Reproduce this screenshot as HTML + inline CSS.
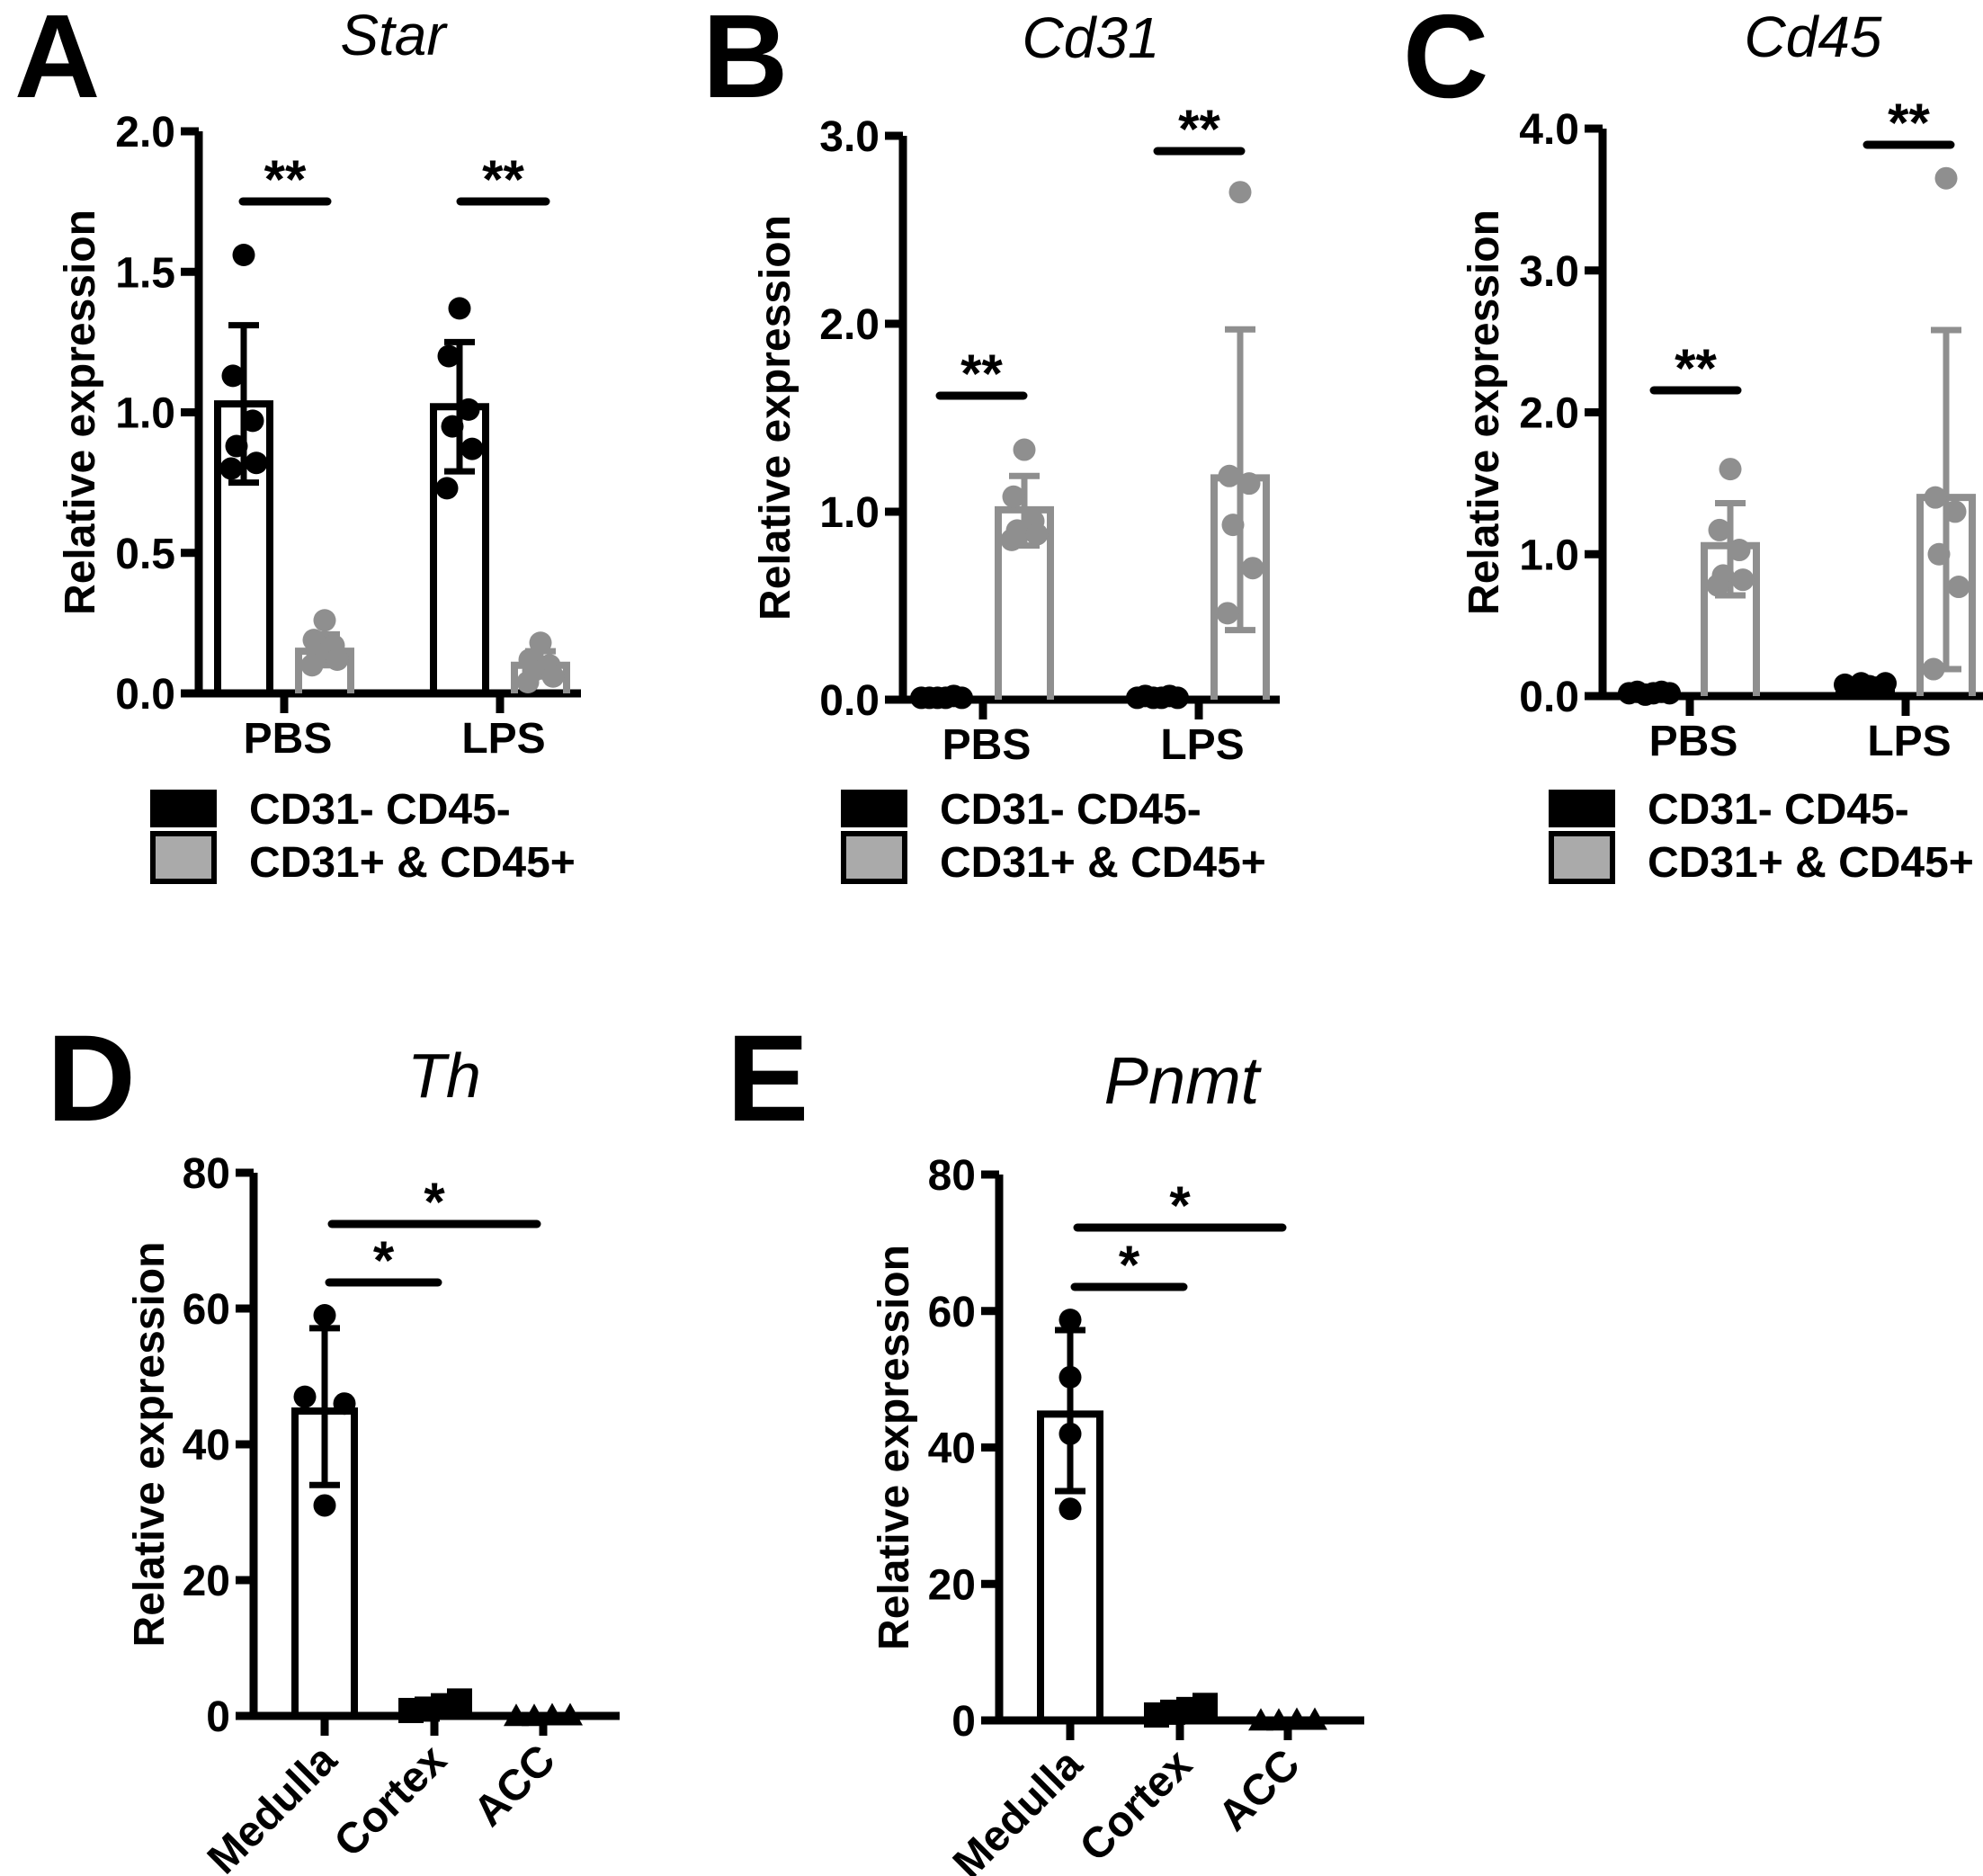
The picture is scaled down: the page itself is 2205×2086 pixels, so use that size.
<!DOCTYPE html>
<html><head><meta charset="utf-8"><style>
html,body{margin:0;padding:0;background:#fff;}
svg{display:block;font-family:"Liberation Sans",Arial,sans-serif;}
</style></head><body>
<svg id="fig" width="2205" height="2086" viewBox="0 0 2205 2086" xmlns="http://www.w3.org/2000/svg"></svg>
<script>
// ---------- Data (top-level) ----------
const groupsTop = ["PBS", "LPS"];
const legendLabels = ["CD31- CD45-", "CD31+ & CD45+"];

const starTicks = ["0.0","0.5","1.0","1.5","2.0"];
const starBlackMean = [1.03, 1.02];
const starBlackErr = [[0.75,1.31],[0.79,1.25]];
const starBlackPts = [[1.56,1.13,0.97,0.88,0.82,0.80],[1.37,1.20,1.01,0.95,0.87,0.73]];
const starGreyMean = [0.15, 0.10];
const starGreyErr = [[0.10,0.21],[0.06,0.15]];
const starGreyPts = [[0.26,0.19,0.17,0.14,0.12,0.10],[0.18,0.12,0.10,0.08,0.06,0.04]];

const cd31Ticks = ["0.0","1.0","2.0","3.0"];
const cd31BlackMean = [0.01, 0.01];
const cd31BlackErr = [[0.0,0.02],[0.0,0.02]];
const cd31BlackPts = [[0.01,0.01,0.01,0.01,0.02,0.01],[0.01,0.02,0.01,0.01,0.02,0.01]];
const cd31GreyMean = [1.01, 1.18];
const cd31GreyErr = [[0.82,1.19],[0.37,1.97]];
const cd31GreyPts = [[1.33,1.08,0.95,0.90,0.88,0.85],[2.70,1.19,1.15,0.93,0.70,0.46]];

const cd45Ticks = ["0.0","1.0","2.0","3.0","4.0"];
const cd45BlackMean = [0.02, 0.07];
const cd45BlackErr = [[0.01,0.03],[0.05,0.09]];
const cd45BlackPts = [[0.02,0.03,0.01,0.02,0.03,0.02],[0.08,0.06,0.09,0.07,0.06,0.09]];
const cd45GreyMean = [1.06, 1.40];
const cd45GreyErr = [[0.71,1.36],[0.19,2.58]];
const cd45GreyPts = [[1.60,1.17,1.03,0.85,0.82,0.78],[3.65,1.40,1.30,1.00,0.77,0.19]];

const tissues = ["Medulla", "Cortex", "ACC"];
const tissueTicks = ["0","20","40","60","80"];
const thMean = [44.9, 1.2, 0.1];
const thErr = [[34.0,57.1],[0.5,1.8],[0,0.2]];
const thPts = [[59,47,46,31],[0.8,1.0,1.5,2.2],[0.1,0.1,0.2,0.2]];
const pnmtMean = [44.9, 1.3, 0.1];
const pnmtErr = [[33.6,57.2],[0.5,1.9],[0,0.2]];
const pnmtPts = [[58.7,50.3,42,31],[0.8,1.2,1.6,2.2],[0.1,0.1,0.2,0.2]];

// ---------- Helpers ----------
const NS = "http://www.w3.org/2000/svg";
const svg = document.getElementById("fig");
function mk(tag, attrs, parent){
  const e = document.createElementNS(NS, tag);
  for (const k in attrs) e.setAttribute(k, attrs[k]);
  (parent||svg).appendChild(e);
  return e;
}
function txt(s, attrs, parent){ const t = mk("text", attrs, parent); t.textContent = s; return t; }
const GREY = "#8f8f8f";
const jit = [0, -12, 10, -8, 14, -14];

function drawAxes(g, P, ticks, yMax){
  const y = v => P.y0 - (v / yMax) * (P.y0 - P.yTop);
  const ax = mk("path", {d:`M${P.ax} ${P.yTop} V${P.y0} H${P.xEnd}`, stroke:"#000","stroke-width":9,fill:"none"}, g);
  
  
  ticks.forEach(t => {
    const v = parseFloat(t), yy = y(v);
    const l = mk("line", {x1:P.ax-20, x2:P.ax, y1:yy, y2:yy, stroke:"#000","stroke-width":9}, g);
    
    
    const tl = txt(t, {x:P.ax-26, y:yy+17, "text-anchor":"end","font-size":48,"font-weight":"bold"}, g);
    
    
  });
  const yt = txt("Relative expression", {x:0,y:0,"text-anchor":"middle","font-size":48,"font-weight":"bold",
    transform:`translate(${P.ytx},${(P.yTop+P.y0)/2}) rotate(-90)`}, g);
  
  
  return y;
}
function errBar(g, cx, lo, hi, y, color){
  const e = mk("path", {d:`M${cx} ${y(lo)} V${y(hi)} M${cx-17} ${y(hi)} H${cx+17} M${cx-17} ${y(lo)} H${cx+17}`, stroke:color,"stroke-width":7,fill:"none"}, g);
  
  
}
function bar(g, cx, v, y, P, color, name, hw){
  const b = mk("path", {d:`M${cx-hw} ${P.y0} V${y(v)} H${cx+hw} V${P.y0}`, stroke:color,"stroke-width":8,fill:"none","stroke-linejoin":"miter"}, g);
  
  
}
function sig(g, x1, x2, yy, s){
  const l = mk("line", {x1:x1,x2:x2,y1:yy,y2:yy,stroke:"#000","stroke-width":9,"stroke-linecap":"round"}, g);
  
  
  const t = txt(s, {x:(x1+x2)/2, y:yy-4, "text-anchor":"middle","font-size":60,"font-weight":"bold"}, g);
  
  
}
function panelLabel(s, x, y, size){
  const t = txt(s, {x:x,y:y,"font-size":size,"font-weight":"bold"});
  
  
}
function title(s, x, y, size){
  const t = txt(s, {x:x,y:y,"font-size":size,"font-style":"italic","text-anchor":"middle"});
  
  
}

function topPanel(P, ticks, yMax, bm, be, bp, gm, ge, gp){
  const g = mk("g", {});
  
  
  const y = drawAxes(g, P, ticks, yMax);
  groupsTop.forEach((grp, i) => {
    const c = P.centers[i];
    const xt = mk("line", {x1:c, x2:c, y1:P.y0, y2:P.y0+22, stroke:"#000","stroke-width":9}, g);
    
    
    const lab = txt(grp, {x:c+4, y:P.y0+66, "text-anchor":"middle","font-size":48,"font-weight":"bold"}, g);
    
    
    const cb = c - P.off, cg = c + P.off;
    bar(g, cb, bm[i], y, P, "#000", 'bar-cd31neg-' + grp.toLowerCase(), 29);
    bar(g, cg, gm[i], y, P, GREY, 'bar-cd31pos-' + grp.toLowerCase(), 29);
    errBar(g, cb, be[i][0], be[i][1], y, "#000");
    errBar(g, cg, ge[i][0], ge[i][1], y, GREY);
    bp[i].forEach((v, k) => {
      const d = mk("circle", {cx:cb + (bm[i] < 0.2 ? (k-2.5)*9 : jit[k]), cy:y(v), r:12.5, fill:"#000"}, g);
      
      
    });
    gp[i].forEach((v, k) => {
      const d = mk("circle", {cx:cg + jit[k], cy:y(v), r:12.5, fill:GREY}, g);
      
      
    });
  });
  P.sigs.forEach(s => sig(g, s[0], s[1], s[2], "**"));
  const lg = mk("g", {}, g);
  
  
  const r1 = mk("rect", {x:P.lx, y:878, width:74, height:42, fill:"#000"}, lg);
  
  
  const r2 = mk("rect", {x:P.lx+3, y:927, width:68, height:53, fill:"#aaa", stroke:"#000","stroke-width":6}, lg);
  
  
  const t1 = txt(legendLabels[0], {x:P.lx+110, y:916, "font-size":48,"font-weight":"bold"}, lg);
  
  
  const t2 = txt(legendLabels[1], {x:P.lx+110, y:975, "font-size":48,"font-weight":"bold"}, lg);
  
  
}

function bottomPanel(P, means, errs, pts){
  const g = mk("g", {});
  
  
  const y = drawAxes(g, P, tissueTicks, 80);
  tissues.forEach((t, i) => {
    const c = P.centers[i];
    const xt = mk("line", {x1:c, x2:c, y1:P.y0, y2:P.y0+22, stroke:"#000","stroke-width":9}, g);
    
    
    const lab = txt(t, {x:0, y:0, "text-anchor":"end","font-size":48,"font-weight":"bold",
      transform:`translate(${c+16},${P.y0+52}) rotate(-45)`}, g);
    
    
    if (i === 0){
      bar(g, c, means[i], y, P, "#000", 'bar-' + t.toLowerCase(), 33);
      errBar(g, c, errs[i][0], errs[i][1], y, "#000");
      const arr = pts[i];
      arr.forEach((v, k) => {
        let dx = 0;
        const near = arr.findIndex((w, j) => j !== k && Math.abs(w - v) < 3);
        if (near >= 0) dx = (v >= arr[near] ? -22 : 22);
        const d = mk("circle", {cx:c + dx, cy:y(v), r:12.5, fill:"#000"}, g);
        
        
      });
    } else if (i === 1){
      pts[i].forEach((v, k) => {
        const d = mk("rect", {x:c-40+k*18, y:y(v)-14, width:28, height:28, fill:"#000"}, g);
        
        
      });
    } else {
      pts[i].forEach((v, k) => {
        const cx = c-30+k*20, cy = y(v);
        const d = mk("path", {d:`M${cx-14} ${cy+12} L${cx} ${cy-13} L${cx+14} ${cy+12} Z`, fill:"#000"}, g);
        
        
      });
    }
  });
  sig(g, P.s1[0], P.s1[1], P.s1[2], "*");
  sig(g, P.s2[0], P.s2[1], P.s2[2], "*");
}

// ---------- Panels ----------
panelLabel("A", 16, 108, 132);
title("Star", 437, 61, 64);
topPanel({name:"panel-a-star", ax:221, yTop:146, y0:771, xEnd:646, ytx:105, centers:[316,556], off:45, lx:167,
  sigs:[[270,364,224],[512,607,224]]}, starTicks, 2.0, starBlackMean, starBlackErr, starBlackPts, starGreyMean, starGreyErr, starGreyPts);

panelLabel("B", 781, 108, 132);
title("Cd31", 1213, 64, 64);
topPanel({name:"panel-b-cd31", ax:1004, yTop:151, y0:778, xEnd:1423, ytx:878, centers:[1093,1333], off:46, lx:935,
  sigs:[[1045,1138,440],[1287,1380,168]]}, cd31Ticks, 3.0, cd31BlackMean, cd31BlackErr, cd31BlackPts, cd31GreyMean, cd31GreyErr, cd31GreyPts);

panelLabel("C", 1560, 108, 132);
title("Cd45", 2016, 63, 64);
topPanel({name:"panel-c-cd45", ax:1782, yTop:143, y0:774, xEnd:2205, ytx:1666, centers:[1879,2119], off:45, lx:1722,
  sigs:[[1839,1932,434],[2076,2169,161]]}, cd45Ticks, 4.0, cd45BlackMean, cd45BlackErr, cd45BlackPts, cd45GreyMean, cd45GreyErr, cd45GreyPts);

panelLabel("D", 52, 1246, 137);
title("Th", 494, 1220, 70);
bottomPanel({name:"panel-d-th", ax:282, yTop:1304, y0:1908, xEnd:689, ytx:182, centers:[361,483,604],
  s1:[366,487,1426], s2:[369,597,1361]}, thMean, thErr, thPts);

panelLabel("E", 808, 1246, 137);
title("Pnmt", 1314, 1227, 74);
bottomPanel({name:"panel-e-pnmt", ax:1111, yTop:1306, y0:1913, xEnd:1517, ytx:1010, centers:[1190,1312,1432],
  s1:[1195,1316,1431], s2:[1198,1426,1365]}, pnmtMean, pnmtErr, pnmtPts);
</script>
</body></html>
